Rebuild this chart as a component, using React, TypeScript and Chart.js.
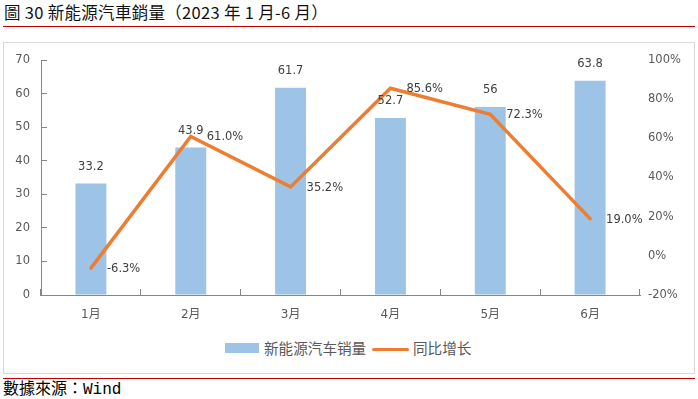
import React, { useEffect, useRef } from "react";
import { Chart, registerables } from "chart.js";

Chart.register(...registerables);

const categories = ["1月", "2月", "3月", "4月", "5月", "6月"];
const salesValues = [33.2, 43.9, 61.7, 52.7, 56, 63.8];
const yoyValues = [-6.3, 61.0, 35.2, 85.6, 72.3, 19.0];
const salesLabel = "新能源汽车销量";
const yoyLabel = "同比增长";
const titleText = "圖 30 新能源汽車銷量（2023 年 1 月-6 月）";
const sourceText = "數據來源：Wind";

const BAR_COLOR = "#9DC3E6";
const LINE_COLOR = "#ED7D31";
const AXIS_TEXT = "#595959";
const LABEL_TEXT = "#404040";
const AXIS_FONT = { family: "'DejaVu Sans', 'Noto Sans CJK SC'", size: 11.5 };

const dataLabelPlugin = {
  id: "dataLabels",
  afterDatasetsDraw(chart: any) {
    const ctx = chart.ctx;
    ctx.save();
    ctx.font = "11.5px 'DejaVu Sans', 'Noto Sans CJK SC'";
    ctx.fillStyle = LABEL_TEXT;
    ctx.textBaseline = "middle";
    chart.data.datasets.forEach((ds: any, di: number) => {
      const meta = chart.getDatasetMeta(di);
      meta.data.forEach((el: any, i: number) => {
        const v = ds.data[i];
        if (ds.type === "bar") {
          ctx.textAlign = "center";
          ctx.fillText(String(v), el.x, el.y - 17);
        } else {
          ctx.textAlign = "left";
          ctx.fillText(v.toFixed(1) + "%", el.x + 16, el.y + 1);
        }
      });
    });
    ctx.restore();
  },
};

export default function App() {
  const canvasRef = useRef<HTMLCanvasElement | null>(null);

  useEffect(() => {
    const canvas = canvasRef.current;
    if (!canvas) return;
    const chart = new Chart(canvas, {
      type: "bar",
      data: {
        labels: categories,
        datasets: [
          {
            type: "line",
            label: yoyLabel,
            data: yoyValues,
            yAxisID: "y1",
            borderColor: LINE_COLOR,
            backgroundColor: LINE_COLOR,
            borderWidth: 3.5,
            pointRadius: 0,
            tension: 0,
            borderCapStyle: "round",
            order: 0,
          } as any,
          {
            type: "bar",
            label: salesLabel,
            data: salesValues,
            yAxisID: "y",
            backgroundColor: BAR_COLOR,
            categoryPercentage: 1,
            barPercentage: 0.31,
            order: 1,
          } as any,
        ],
      },
      options: {
        responsive: false,
        animation: false,
        devicePixelRatio: 1,
        layout: { padding: { left: 0, right: 0, top: 60, bottom: 0 } },
        plugins: {
          legend: { display: false },
          tooltip: { enabled: false },
          title: { display: false },
        },
        scales: {
          x: {
            position: "bottom",
            grid: {
              display: true,
              drawOnChartArea: false,
              drawTicks: true,
              tickLength: -6,
              color: "#868686",
              offset: true,
            },
            border: { display: true, color: "#868686", width: 1 },
            ticks: { color: AXIS_TEXT, font: { family: AXIS_FONT.family, size: 12 }, padding: 19 },
            afterFit: (s: any) => {
              s.height = 35;
            },
          },
          y: {
            position: "left",
            min: 0,
            max: 70,
            ticks: { stepSize: 10, color: AXIS_TEXT, font: AXIS_FONT, padding: 17 },
            grid: {
              display: true,
              drawOnChartArea: false,
              drawTicks: true,
              tickLength: -6,
              color: "#868686",
            },
            border: { display: true, color: "#868686", width: 1 },
            afterFit: (s: any) => {
              s.width = 41;
            },
          },
          y1: {
            position: "right",
            min: -20,
            max: 100,
            ticks: {
              stepSize: 20,
              color: AXIS_TEXT,
              font: AXIS_FONT,
              padding: 8,
              callback: (v: any) => v + "%",
            },
            grid: { display: false, drawTicks: false },
            border: { display: false },
            afterFit: (s: any) => {
              s.width = 58;
            },
          },
        },
      },
      plugins: [dataLabelPlugin],
    });
    return () => chart.destroy();
  }, []);

  return (
    <div
      style={{
        position: "fixed",
        left: 0,
        top: 0,
        width: 698,
        height: 399,
        background: "#fff",
        overflow: "hidden",
      }}
    >
      <div
        style={{
          position: "absolute",
          left: 4,
          top: 1,
          fontFamily: "'Noto Sans CJK TC'",
          fontWeight: 400,
          fontSize: 16.5,
          letterSpacing: "0.3px",
          lineHeight: "22px",
          color: "#111",
          whiteSpace: "nowrap",
        }}
      >
        {titleText}
      </div>
      <div style={{ position: "absolute", left: 3, top: 26, width: 692, height: 1, background: "#C00000" }} />
      <div
        style={{
          position: "absolute",
          left: 3,
          top: 42,
          width: 690,
          height: 330,
          border: "1px solid #D9D9D9",
        }}
      />
      <canvas
        ref={canvasRef}
        width={698}
        height={330}
        style={{ position: "absolute", left: 0, top: 0, width: 698, height: 330 }}
      />
      <div style={{ position: "absolute", left: 225, top: 343, width: 34, height: 10, background: BAR_COLOR }} />
      <div
        style={{
          position: "absolute",
          left: 264,
          top: 339,
          fontFamily: "'Noto Sans CJK SC'",
          fontSize: 14.6,
          lineHeight: "18px",
          color: AXIS_TEXT,
          whiteSpace: "nowrap",
        }}
      >
        {salesLabel}
      </div>
      <div
        style={{
          position: "absolute",
          left: 372,
          top: 347.5,
          width: 37,
          height: 3.5,
          borderRadius: 2,
          background: LINE_COLOR,
        }}
      />
      <div
        style={{
          position: "absolute",
          left: 413,
          top: 339,
          fontFamily: "'Noto Sans CJK SC'",
          fontSize: 14.6,
          lineHeight: "18px",
          color: AXIS_TEXT,
          whiteSpace: "nowrap",
        }}
      >
        {yoyLabel}
      </div>
      <div style={{ position: "absolute", left: 3, top: 378, width: 692, height: 1, background: "#C00000" }} />
      <div
        style={{
          position: "absolute",
          left: 3,
          top: 380,
          fontFamily: "'Liberation Mono', 'Noto Sans CJK TC'",
          fontSize: 16,
          lineHeight: "20px",
          color: "#000",
          whiteSpace: "nowrap",
        }}
      >
        {sourceText}
      </div>
    </div>
  );
}
